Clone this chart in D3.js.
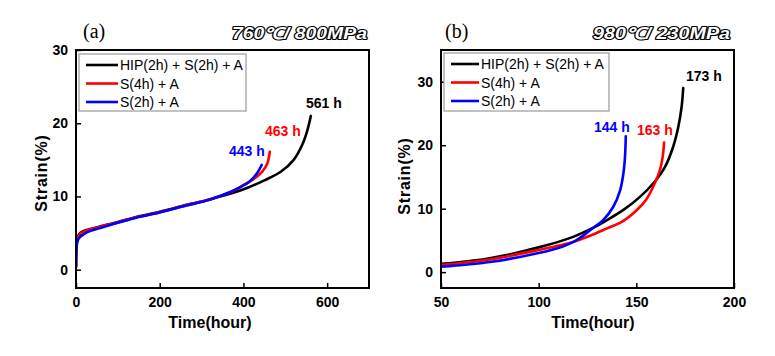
<!DOCTYPE html>
<html>
<head>
<meta charset="utf-8">
<script src="https://cdn.jsdelivr.net/npm/d3@7"></script>
<style>
  html, body { margin: 0; padding: 0; background: #fff; }
  svg { display: block; }
  text { font-family: Arial, "Liberation Sans", sans-serif; }
</style>
</head>
<body>
<svg id="chart" width="775" height="356"></svg>
<script>
// ---------- Data ----------
// Panel (a): 760℃ / 800MPa
const aTimeHIP   = [0, 0.5, 1, 2, 4, 8, 15, 30, 64, 100, 144, 200, 223, 267, 300, 330, 370, 410, 450, 490, 520, 540, 552, 561];
const aStrainHIP = [0.5, 2.6, 3.3, 3.9, 4.4, 4.9, 5.2, 5.5, 6.0, 6.5, 7.2, 7.9, 8.25, 8.9, 9.3, 9.75, 10.4, 11.2, 12.2, 13.4, 15.0, 17.0, 18.9, 21.0];
const aTimeS4    = [0, 0.5, 1, 2, 4, 8, 15, 30, 64, 100, 144, 200, 223, 267, 300, 330, 370, 402, 425, 445, 457, 463];
const aStrainS4  = [0.4, 2.5, 3.2, 3.8, 4.3, 4.8, 5.1, 5.45, 5.95, 6.45, 7.15, 7.85, 8.2, 8.85, 9.3, 9.8, 10.6, 11.6, 12.4, 13.4, 14.5, 16.1];
const aTimeS2    = [0, 0.5, 1, 2, 5, 10, 17, 30, 64, 100, 144, 200, 223, 267, 300, 330, 370, 414, 433, 443.5];
const aStrainS2  = [0.3, 1.6, 2.5, 3.4, 4.1, 4.5, 4.8, 5.2, 5.8, 6.4, 7.1, 7.8, 8.15, 8.8, 9.25, 9.8, 10.65, 12.0, 13.2, 14.3];

// Panel (b): 980℃ / 230MPa
const bTimeHIP   = [50, 75, 100, 118, 128, 135, 143.4, 152, 158.7, 164.7, 168.9, 171.5, 173.2, 174];
const bStrainHIP = [1.3, 2.2, 3.9, 5.6, 7.0, 8.2, 9.8, 11.9, 14.0, 16.6, 19.8, 22.9, 26.1, 29.0];
const bTimeS4    = [50, 75, 100, 118, 126, 135, 143, 150, 155, 158.7, 162.1, 163.5, 164.2];
const bStrainS4  = [1.15, 2.0, 3.5, 4.8, 5.7, 6.9, 8.0, 9.7, 11.4, 13.5, 16.1, 18.2, 20.4];
const bTimeS2    = [50, 75, 100, 112, 118, 123, 128, 133, 138.2, 141.7, 143.4, 144.2, 144.6];
const bStrainS2  = [0.85, 1.6, 3.0, 4.0, 4.8, 5.8, 7.0, 8.2, 10.3, 12.9, 15.6, 18.2, 21.4];

const seriesNames  = ["HIP(2h) + S(2h) + A", "S(4h) + A", "S(2h) + A"];
const seriesColors = ["#000000", "#ff0000", "#0000ff"];

const aXTicks = [0, 200, 400, 600];
const aYTicks = [0, 10, 20, 30];
const bXTicks = [50, 100, 150, 200];
const bYTicks = [0, 10, 20, 30];

const aEndLabels = ["561 h", "463 h", "443 h"];
const bEndLabels = ["173 h", "163 h", "144 h"];

const panelLetters = ["(a)", "(b)"];
const conditions = ["760℃/ 800MPa", "980℃/ 230MPa"];
const xTitle = "Time(hour)";
const yTitle = "Strain(%)";

// ---------- Drawing ----------
const svg = d3.select("#chart");

function zip(t, s) { return t.map((v, i) => ({ t: v, s: s[i] })); }

const panels = [
  {
    left: 76, right: 369, top: 50, bottom: 288,
    xDomain: [0, 700], yDomain: [-2.5, 30],
    xTicks: aXTicks, yTicks: aYTicks,
    series: [zip(aTimeHIP, aStrainHIP), zip(aTimeS4, aStrainS4), zip(aTimeS2, aStrainS2)],
    endLabels: aEndLabels,
    labelPos: [{ x: 306, y: 108 }, { x: 265, y: 136 }, { x: 229, y: 156 }],
    legend: { x: 79, y: 54, w: 167, h: 57, lx1: 86, lx2: 118, tx: 120 },
    letterX: 83, condRight: 367, condLen: 135,
    xTitleX: 210, yTitleX: 41, yTitleY: 173
  },
  {
    left: 441, right: 734, top: 50, bottom: 288,
    xDomain: [50, 200], yDomain: [-2.5, 35],
    xTicks: bXTicks, yTicks: bYTicks,
    series: [zip(bTimeHIP, bStrainHIP), zip(bTimeS4, bStrainS4), zip(bTimeS2, bStrainS2)],
    endLabels: bEndLabels,
    labelPos: [{ x: 686, y: 81 }, { x: 637, y: 135 }, { x: 594, y: 132 }],
    legend: { x: 444, y: 53, w: 165, h: 58, lx1: 451, lx2: 479, tx: 481 },
    letterX: 445, condRight: 730, condLen: 137,
    xTitleX: 593, yTitleX: 404, yTitleY: 176
  }
];

panels.forEach((p, pi) => {
  const x = d3.scaleLinear().domain(p.xDomain).range([p.left, p.right]);
  const y = d3.scaleLinear().domain(p.yDomain).range([p.bottom, p.top]);
  const g = svg.append("g");

  const clipId = "clip" + pi;
  svg.append("clipPath").attr("id", clipId)
    .append("rect").attr("x", p.left).attr("y", p.top)
    .attr("width", p.right - p.left).attr("height", p.bottom - p.top);

  // axes (ticks inward)
  const xAxis = g.append("g").attr("transform", `translate(0,${p.bottom})`)
    .call(d3.axisBottom(x).tickValues(p.xTicks).tickSize(-5).tickPadding(9).tickFormat(d3.format("d")));
  const yAxis = g.append("g").attr("transform", `translate(${p.left},0)`)
    .call(d3.axisLeft(y).tickValues(p.yTicks).tickSize(-5).tickPadding(8).tickFormat(d3.format("d")));
  [xAxis, yAxis].forEach(ax => {
    ax.select(".domain").remove();
    ax.selectAll(".tick line").attr("stroke", "#000").attr("stroke-width", 1.5);
    ax.selectAll(".tick text").attr("fill", "#000")
      .style("font-size", "14px").style("font-weight", "bold");
  });
  xAxis.selectAll(".tick text").attr("dy", "0.71em");

  // curves
  const line = d3.line().x(d => x(d.t)).y(d => y(d.s)).curve(d3.curveCatmullRom.alpha(0.5));
  p.series.forEach((data, i) => {
    g.append("path").datum(data)
      .attr("clip-path", `url(#${clipId})`)
      .attr("fill", "none")
      .attr("stroke", seriesColors[i])
      .attr("stroke-width", 2.6)
      .attr("stroke-linecap", "round")
      .attr("stroke-linejoin", "round")
      .attr("d", line);
  });

  // frame
  g.append("rect")
    .attr("x", p.left).attr("y", p.top)
    .attr("width", p.right - p.left).attr("height", p.bottom - p.top)
    .attr("fill", "none").attr("stroke", "#000").attr("stroke-width", 2);

  // end labels
  p.endLabels.forEach((lab, i) => {
    g.append("text").attr("x", p.labelPos[i].x).attr("y", p.labelPos[i].y)
      .attr("fill", seriesColors[i])
      .style("font-size", "14px").style("font-weight", "bold")
      .text(lab);
  });

  // legend
  const L = p.legend;
  g.append("rect").attr("x", L.x).attr("y", L.y).attr("width", L.w).attr("height", L.h)
    .attr("fill", "#fff").attr("stroke", "#999").attr("stroke-width", 1.2);
  seriesNames.forEach((name, i) => {
    const yy = L.y + 11 + i * 18.5;
    g.append("line").attr("x1", L.lx1).attr("x2", L.lx2).attr("y1", yy).attr("y2", yy)
      .attr("stroke", seriesColors[i]).attr("stroke-width", 2.6);
    g.append("text").attr("x", L.tx).attr("y", yy + 5)
      .attr("fill", "#000").style("font-size", "14px")
      .text(name);
  });

  // panel letter
  g.append("text").attr("x", p.letterX).attr("y", 38)
    .style("font-family", "'Liberation Serif', 'Times New Roman', serif")
    .style("font-size", "20px").attr("fill", "#000")
    .text(panelLetters[pi]);

  // condition (outlined italic)
  g.append("text").attr("x", p.condRight).attr("y", 39)
    .attr("text-anchor", "end")
    .attr("textLength", p.condLen).attr("lengthAdjust", "spacingAndGlyphs")
    .style("font-size", "16px").style("font-weight", "bold").style("font-style", "italic")
    .attr("fill", "#fff").attr("stroke", "#000").attr("stroke-width", 2.2)
    .attr("stroke-linejoin", "round")
    .style("paint-order", "stroke")
    .text(conditions[pi]);

  // axis titles
  g.append("text").attr("x", p.xTitleX).attr("y", 328)
    .attr("text-anchor", "middle")
    .style("font-size", "16px").style("font-weight", "bold").attr("fill", "#000")
    .text(xTitle);
  g.append("text")
    .attr("transform", `translate(${p.yTitleX + 6},${p.yTitleY}) rotate(-90)`)
    .attr("text-anchor", "middle")
    .style("font-size", "16px").style("font-weight", "bold").style("letter-spacing", "0.8px")
    .attr("fill", "#000")
    .text(yTitle);
});
</script>
</body>
</html>
